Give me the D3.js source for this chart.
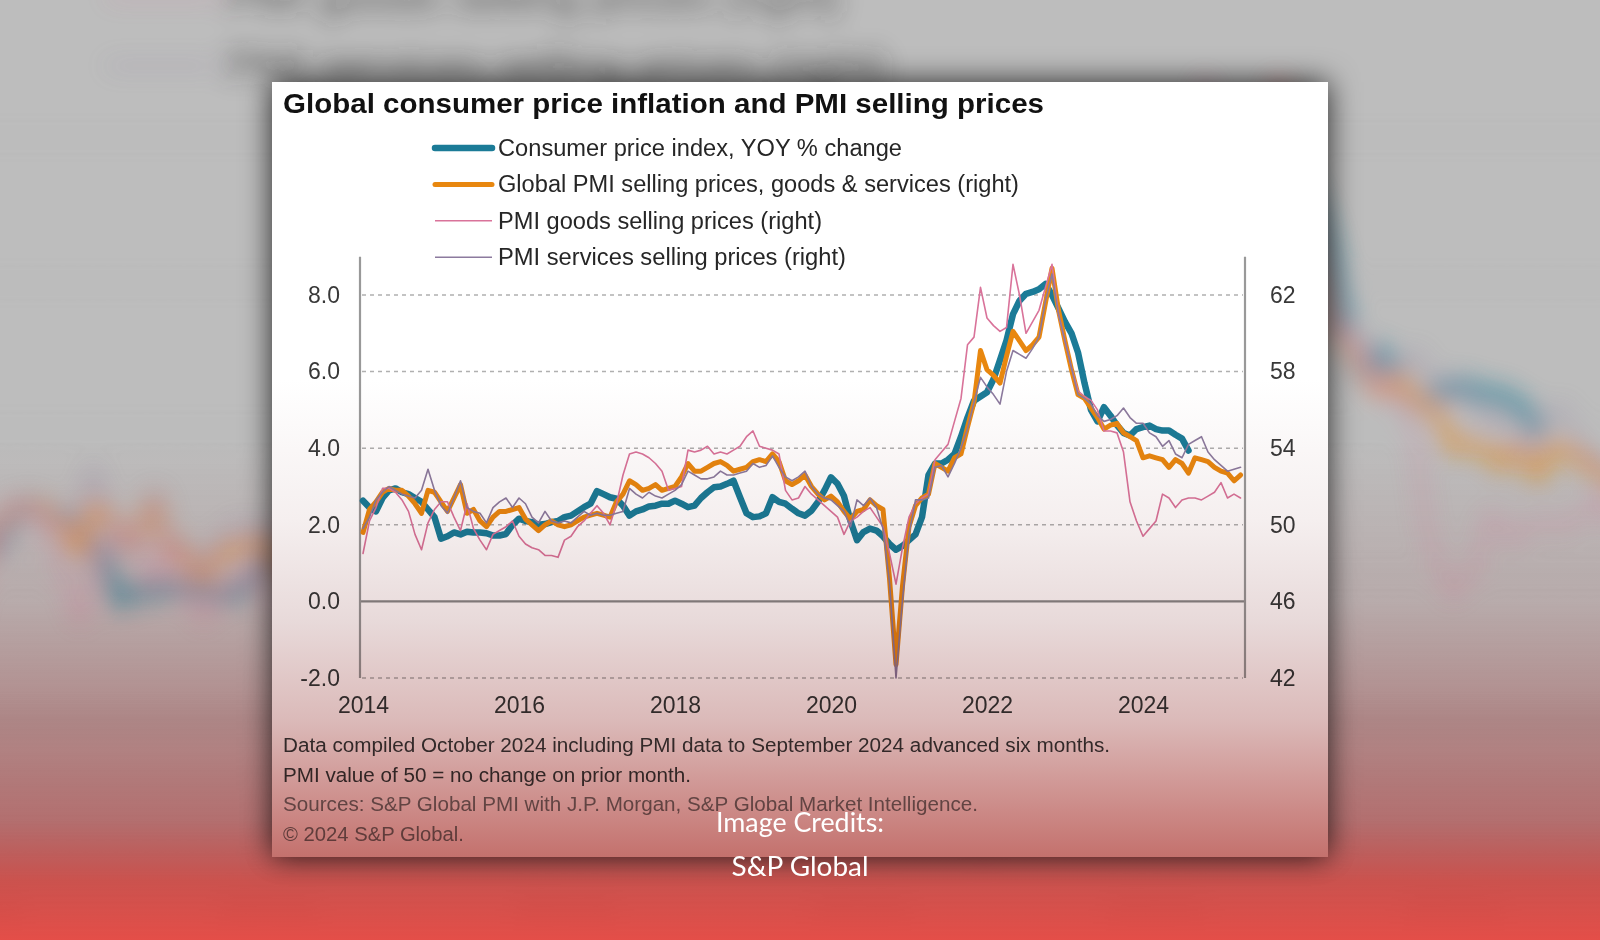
<!DOCTYPE html>
<html><head><meta charset="utf-8">
<script src="https://cdn.jsdelivr.net/npm/d3@7"></script>
<style>html,body{margin:0;padding:0;background:#bdbdbd;overflow:hidden}svg{display:block}</style>
</head><body><svg id="c" width="1600" height="940"></svg>
<script>
// ---------------- DATA ----------------
const startYear = 2014; // monthly series, index 0 = Jan 2014
const yearLabels = ["2014","2016","2018","2020","2022","2024"];
const yearIndex = [0,24,48,72,96,120];
const leftTicks = [-2,0,2,4,6,8];
const rightTicks = [42,46,50,54,58,62];

const titleText = "Global consumer price inflation and PMI selling prices";
const legendLabels = [
  "Consumer price index, YOY % change",
  "Global PMI selling prices, goods & services (right)",
  "PMI goods selling prices (right)",
  "PMI services selling prices (right)"
];
const notes = [
  "Data compiled October 2024 including PMI data to September 2024 advanced six months.",
  "PMI value of 50 = no change on prior month.",
  "Sources: S&P Global PMI with J.P. Morgan, S&P Global Market Intelligence.",
  "\u00A9 2024 S&P Global."
];
const credits = ["Image Credits:", "S&P Global"];

// Consumer price index, YOY % change (left axis)
const cpi = [2.63,2.45,2.35,2.7,2.9,2.95,2.85,2.8,2.7,2.6,2.4,2.2,
1.64,1.7,1.8,1.75,1.82,1.8,1.8,1.78,1.72,1.72,1.76,2.0,
2.16,2.1,2.07,2.0,2.02,2.07,2.1,2.2,2.24,2.35,2.46,2.55,
2.88,2.8,2.72,2.68,2.5,2.24,2.35,2.4,2.48,2.5,2.55,2.55,
2.63,2.55,2.46,2.5,2.7,2.85,2.98,3.0,3.07,3.15,2.72,2.3,
2.2,2.22,2.3,2.72,2.6,2.55,2.42,2.3,2.24,2.37,2.6,2.9,
3.24,3.07,2.75,2.1,1.6,1.81,1.9,1.85,1.7,1.5,1.35,1.45,
1.6,1.75,2.2,3.3,3.6,3.6,3.7,3.85,4.3,4.8,5.24,5.35,
5.46,5.8,6.3,6.81,7.5,7.85,8.03,8.08,8.15,8.29,8.0,7.65,
7.3,7.0,6.5,5.7,5.0,4.7,5.07,4.85,4.6,4.4,4.33,4.5,
4.55,4.59,4.5,4.46,4.46,4.35,4.25,3.94];

// Global PMI selling prices, goods & services (right axis)
const pmiGlobal = [49.6,50.8,51.2,51.7,51.9,51.8,51.8,51.5,51.1,50.6,51.8,51.7,
51.2,50.7,51.4,52.1,50.6,50.8,50.2,49.9,50.4,50.7,50.7,50.8,
50.9,50.3,50.0,49.7,50.0,50.2,50.0,49.9,50.0,50.2,50.4,50.5,
50.6,50.5,50.4,51.2,51.6,52.3,52.1,51.8,51.9,52.1,51.8,51.9,
52.0,52.5,53.2,52.8,52.8,53.0,53.2,53.3,53.1,52.8,52.9,53.0,
53.3,53.4,53.3,53.7,53.3,52.3,52.1,52.3,52.6,52.0,51.6,51.3,
51.5,51.2,50.7,50.3,50.7,50.8,51.3,51.0,50.8,47.2,42.7,46.8,
49.9,51.0,51.4,51.6,53.2,53.0,52.8,53.5,53.7,55.1,56.4,59.1,
58.1,57.8,57.4,58.8,60.1,59.6,59.1,59.4,59.8,61.6,63.4,61.2,
59.6,58.1,56.8,56.6,56.1,55.6,55.0,55.2,55.3,54.8,54.6,54.4,
53.5,53.6,53.5,53.4,53.0,53.4,53.2,52.7,53.5,53.4,53.3,53.0,
52.8,52.7,52.3,52.6];

// PMI goods selling prices (right axis)
const pmiGoods = [48.5,50.2,50.9,51.9,51.9,51.7,51.3,50.7,49.5,48.7,50.1,50.8,
51.2,51.2,50.4,49.7,51.1,49.8,49.2,48.7,49.5,49.7,49.9,50.2,
49.4,49.0,48.8,48.7,48.4,48.4,48.3,49.2,49.4,49.9,50.2,50.6,
51.0,50.6,50.0,51.1,52.6,53.7,53.8,53.7,53.5,53.2,52.8,51.8,
51.9,52.0,53.9,53.8,53.9,54.1,53.7,53.8,53.7,53.9,54.1,54.6,
54.9,54.1,54.0,53.9,53.7,51.8,51.3,51.4,52.0,51.6,51.3,51.0,
50.7,50.4,49.5,50.2,50.4,50.7,50.9,50.4,49.9,48.5,46.9,48.8,
50.4,51.1,51.4,51.6,53.4,53.8,54.2,55.4,56.6,59.4,59.8,62.4,
60.8,60.4,60.1,60.3,63.6,62.0,60.0,60.6,61.2,62.4,63.6,61.0,
59.6,58.2,57.0,56.7,56.5,56.0,54.9,54.9,54.8,53.8,51.2,50.2,
49.4,49.8,50.2,51.6,51.4,50.9,51.3,51.4,51.4,51.3,51.5,51.7,
52.2,51.4,51.6,51.4];

// PMI services selling prices (right axis)
const pmiServices = [49.8,50.4,51.3,51.7,52.0,51.8,51.6,51.5,51.4,51.8,52.9,51.8,
51.0,50.6,51.4,52.3,50.9,50.7,50.6,50.1,50.9,51.2,51.4,50.9,
51.4,51.1,50.4,50.1,50.7,50.2,50.1,50.2,50.1,50.4,50.7,50.5,
50.6,50.5,50.5,50.6,50.7,51.9,51.6,51.4,51.7,51.5,51.4,51.6,
51.8,52.1,52.8,52.6,52.4,52.4,52.5,52.8,52.6,52.6,52.7,52.8,
53.2,53.0,53.1,53.6,53.0,52.5,52.3,52.5,52.8,52.0,51.6,51.4,
51.3,51.0,50.7,49.9,51.3,51.0,51.4,50.9,49.8,47.0,42.0,46.1,
49.5,51.3,51.3,51.4,53.0,53.1,52.5,53.2,54.0,55.0,56.4,57.7,
57.2,56.8,56.3,58.0,59.1,58.9,58.7,59.2,59.8,61.7,63.1,61.0,
59.6,58.2,56.8,56.6,56.3,55.7,55.4,55.5,55.7,56.1,55.6,55.3,
55.3,54.8,54.6,54.1,54.4,53.7,53.5,54.2,54.4,54.6,53.8,53.4,
53.1,52.8,52.9,53.0];

// ---------------- DRAWING ----------------
const FONT = "'Liberation Sans', Arial, sans-serif";
const svg = d3.select("#c");
const defs = svg.append("defs");

const blur = defs.append("filter").attr("id","blur").attr("filterUnits","userSpaceOnUse")
  .attr("x",-200).attr("y",-200).attr("width",2000).attr("height",1340);
blur.append("feGaussianBlur").attr("stdDeviation",12);

const shadow = defs.append("filter").attr("id","shadow").attr("x","-10%").attr("y","-10%").attr("width","120%").attr("height","120%");
shadow.append("feDropShadow").attr("dx",0).attr("dy",0).attr("stdDeviation",15)
  .attr("flood-color","#000").attr("flood-opacity",0.8);

function grad(id, stops){
  const g = defs.append("linearGradient").attr("id",id).attr("gradientUnits","userSpaceOnUse")
    .attr("x1",0).attr("x2",0).attr("y1",0).attr("y2",940);
  stops.forEach(s=>g.append("stop").attr("offset",s[0]/940).attr("stop-color",s[1]).attr("stop-opacity",s[2]));
}
grad("bgOverlay",[[440,"#962828",0],[600,"#962d2d",0.12],[720,"#9a2d2d",0.36],[820,"#ab3232",0.56],[880,"#cd413c",0.86],[940,"#e44e48",1]]);
grad("cardTint",[[380,"#ffffff",1],[520,"#f5efef",1],[620,"#e8dada",1],[720,"#dbbab9",1],[857,"#c4716d",1]]);

const x = d3.scaleLinear().domain([0,135]).range([363,1240.5]);
const yL = d3.scaleLinear().domain([-2,8]).range([678,295]);
const yR = d3.scaleLinear().domain([42,62]).range([678,295]);

const series = [
  {values:cpi, y:yL, color:"#1b7b97", width:6.5},
  {values:pmiGlobal, y:yR, color:"#e8870f", width:5},
  {values:pmiGoods, y:yR, color:"#d9739a", width:1.6},
  {values:pmiServices, y:yR, color:"#8c7a9e", width:1.6}
];

function drawChart(g, widthScale){
  g.append("g").selectAll("line").data(leftTicks.filter(d=>d!==0)).join("line")
    .attr("x1",362).attr("x2",1243).attr("y1",d=>yL(d)).attr("y2",d=>yL(d))
    .attr("stroke","#b0b0b0").attr("stroke-width",1.5).attr("stroke-dasharray","4,4");
  g.append("line").attr("x1",360).attr("x2",1245).attr("y1",yL(0)).attr("y2",yL(0))
    .attr("stroke","#8a8a8a").attr("stroke-width",2.2);
  [360,1245].forEach(px=>g.append("line").attr("x1",px).attr("x2",px).attr("y1",yL(9)).attr("y2",yL(-2))
    .attr("stroke","#999").attr("stroke-width",2.2));

  const styleAxis = sel => { sel.select(".domain").remove();
    sel.attr("font-family",FONT).attr("font-size",23);
    sel.selectAll("text").attr("fill","#383838"); };
  g.append("g").attr("transform","translate(360,0)")
    .call(d3.axisLeft(yL).tickValues(leftTicks).tickFormat(d=>d.toFixed(1)).tickSize(0).tickPadding(20)).call(styleAxis);
  g.append("g").attr("transform","translate(1245,0)")
    .call(d3.axisRight(yR).tickValues(rightTicks).tickFormat(d=>String(d)).tickSize(0).tickPadding(25)).call(styleAxis);
  g.append("g").attr("transform","translate(0,678)")
    .call(d3.axisBottom(x).tickValues(yearIndex).tickFormat((d,i)=>yearLabels[i]).tickSize(0).tickPadding(19)).call(styleAxis);

  series.forEach(s=>{
    const line = d3.line().x((d,i)=>x(i)).y(d=>s.y(d));
    g.append("path").datum(s.values).attr("d",line).attr("fill","none")
      .attr("stroke",s.color).attr("stroke-width",s.width*widthScale)
      .attr("stroke-linejoin","round").attr("stroke-linecap","round");
  });

  g.append("text").attr("x",283).attr("y",113).attr("font-family",FONT).attr("font-weight","bold")
    .attr("font-size",28).attr("fill","#111").attr("textLength",761).attr("lengthAdjust","spacingAndGlyphs").text(titleText);

  const legW = [404,521,324,348];
  const leg = g.append("g");
  legendLabels.forEach((lab,i)=>{
    const by = 156 + i*36.4;
    leg.append("line").attr("x1",435).attr("x2",492).attr("y1",by-8).attr("y2",by-8)
      .attr("stroke",series[i].color).attr("stroke-width",series[i].width).attr("stroke-linecap", i<2?"round":"butt");
    leg.append("text").attr("x",498).attr("y",by).attr("font-family",FONT).attr("font-size",23.5)
      .attr("fill","#262626").attr("textLength",legW[i]).attr("lengthAdjust","spacingAndGlyphs").text(lab);
  });

  const noteW = [827,408,695,181];
  const noteY = [752,781.5,811,840.5];
  const noteC = ["#3c3c3c","#3c3c3c","#7a7a7a","#7a7a7a"];
  notes.forEach((t,i)=>{
    g.append("text").attr("x",283).attr("y",noteY[i]).attr("font-family",FONT).attr("font-size",20)
      .attr("fill",noteC[i]).attr("textLength",noteW[i]).attr("lengthAdjust","spacingAndGlyphs").text(t);
  });
}

// background: enlarged, blurred copy of the whole chart
svg.append("rect").attr("width",1600).attr("height",940).attr("fill","#bdbdbd");
const bgOuter = svg.append("g").attr("filter","url(#blur)").attr("opacity",0.65);
const bgG = bgOuter.append("g").attr("transform","translate(800,470) scale(1.9) translate(-800,-470)");
drawChart(bgG, 1.4);
svg.append("rect").attr("width",1600).attr("height",940).attr("fill","url(#bgOverlay)");

// card
svg.append("rect").attr("x",272).attr("y",82).attr("width",1056).attr("height",775)
  .attr("fill","#fff").attr("filter","url(#shadow)");
const card = svg.append("g");
drawChart(card, 1);
svg.append("rect").attr("x",272).attr("y",82).attr("width",1056).attr("height",775)
  .attr("fill","url(#cardTint)").style("mix-blend-mode","multiply");

// credits overlay
credits.forEach((t,i)=>{
  svg.append("text").attr("x",800).attr("y",[832,876][i]).attr("text-anchor","middle")
    .attr("font-family","Lato, 'Open Sans', sans-serif").attr("font-size",27).attr("fill","#fff")
    .attr("textLength",[168,137][i]).attr("lengthAdjust","spacingAndGlyphs").text(t);
});
</script></body></html>
